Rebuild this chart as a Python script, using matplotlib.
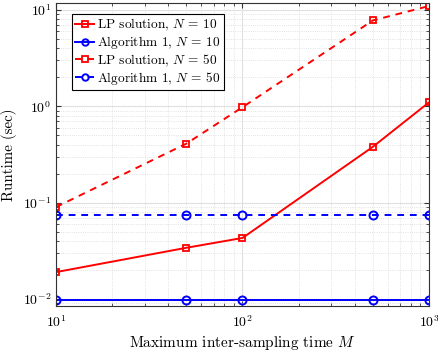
import matplotlib
matplotlib.use("Agg")
import matplotlib.pyplot as plt
from matplotlib.ticker import LogLocator, NullFormatter

M = [10, 50, 100, 500, 1000]
lp_n10 = [0.019, 0.034, 0.043, 0.38, 1.1]
alg_n10 = [0.0098, 0.0098, 0.0098, 0.0098, 0.0098]
lp_n50 = [0.09, 0.41, 0.98, 7.8, 11.0]
alg_n50 = [0.075, 0.075, 0.075, 0.075, 0.075]

plt.rcParams['font.family'] = 'cmr10'
plt.rcParams['mathtext.fontset'] = 'cm'
plt.rcParams['axes.formatter.use_mathtext'] = True

fig = plt.figure(figsize=(4.39, 3.53), dpi=100)
ax = fig.add_axes([56/439, 1-306/353, (429-56)/439, (306-3)/353])

dash = (3.5, 3)
ax.plot(M, lp_n10, '-', color='red', marker='s', mfc='none', ms=4.8, mew=1.3, lw=1.4, label=r'LP solution, $N\,=\,10$')
ax.plot(M, alg_n10, '-', color='blue', marker='o', mfc='none', ms=5.8, mew=1.4, lw=1.4, label=r'Algorithm 1, $N\,=\,10$')
ax.plot(M, lp_n50, '--', dashes=dash, color='red', marker='s', mfc='none', ms=4.8, mew=1.3, lw=1.4, label=r'LP solution, $N\,=\,50$')
ax.plot(M, alg_n50, '--', dashes=dash, color='blue', marker='o', mfc='none', ms=5.8, mew=1.4, lw=1.4, label=r'Algorithm 1, $N\,=\,50$')

ax.set_xscale('log')
ax.set_yscale('log')
ax.set_xlim(10, 1000)
ax.set_ylim(10**-2.073, 10**1.073)
ax.yaxis.set_major_locator(LogLocator(base=10, numticks=10))
ax.yaxis.set_minor_locator(LogLocator(base=10, subs=range(2, 10), numticks=20))
ax.yaxis.set_minor_formatter(NullFormatter())
ax.xaxis.set_minor_formatter(NullFormatter())

ax.grid(True, which='major', color='#e0e0e0', lw=0.8)
ax.grid(True, which='minor', color='#d8d8d8', lw=0.6, ls=':')
ax.tick_params(which='both', direction='in', top=True, right=True, labelsize=10, color='#333333')
ax.tick_params(axis='x', pad=6)
for s in ax.spines.values():
    s.set_color('#333333')
    s.set_linewidth(0.8)

ax.set_xlabel(r'Maximum inter-sampling time $M$', fontsize=11, labelpad=3)
ax.set_ylabel('Runtime (sec)', fontsize=10.8)

leg = ax.legend(loc='upper left', bbox_to_anchor=(0.043, 0.964), fontsize=9.6, fancybox=False,
                edgecolor='black', framealpha=1, handlelength=1.4, handletextpad=0.25,
                borderpad=0.25, labelspacing=0.08, borderaxespad=0.0, markerscale=0.8)
leg.get_frame().set_linewidth(0.8)

fig.savefig('out.png', dpi=100)
